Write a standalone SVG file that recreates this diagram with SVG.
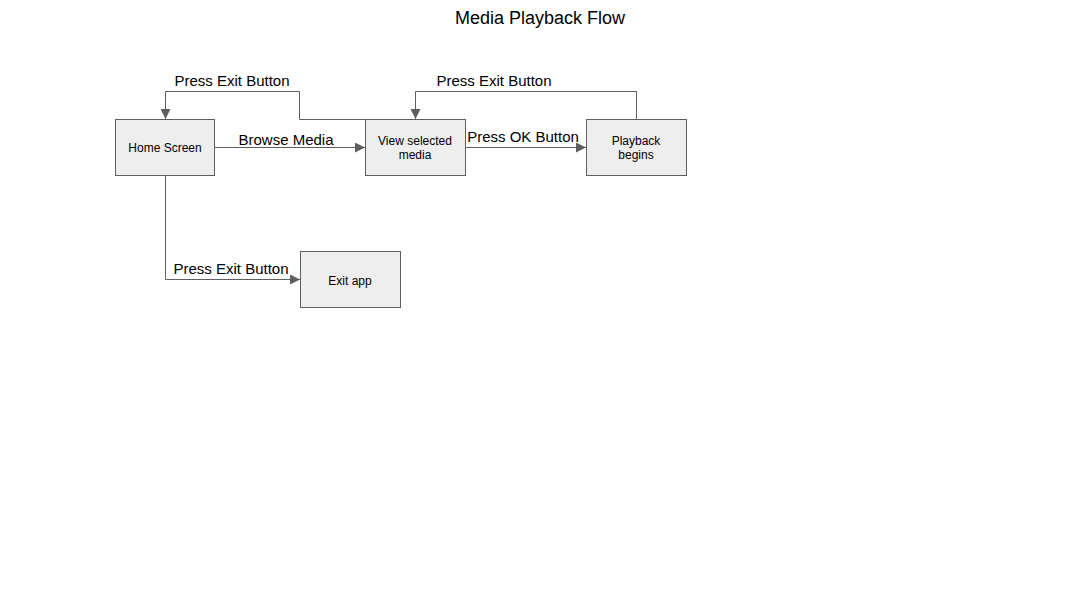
<svg xmlns="http://www.w3.org/2000/svg" width="1080" height="608" viewBox="0 0 1080 608">
<defs>
<style>
.node rect{fill:#eeeeee;stroke:#5f5f5f;stroke-width:1}
.node text{font-family:"Liberation Sans",Arial,sans-serif;font-size:12px;fill:#000;text-anchor:middle}
.edge{fill:none;stroke:#5f5f5f;stroke-width:1}
.lbl{font-family:"Liberation Sans",Arial,sans-serif;font-size:15px;fill:#000;text-anchor:middle}
</style>
<marker id="arr" viewBox="0 0 10 10" refX="10" refY="5" markerWidth="10" markerHeight="10" markerUnits="userSpaceOnUse" orient="auto">
<path d="M0,0 L10,5 L0,10 Z" fill="#5f5f5f"/>
</marker>
</defs>
<rect width="1080" height="608" fill="#fff"/>
<text x="540" y="24" font-family="'Liberation Sans',Arial,sans-serif" font-size="18" text-anchor="middle">Media Playback Flow</text>
<g id="connectors">
<path class="edge" d="M214.5,147.5 H365" marker-end="url(#arr)"/>
<text class="lbl" x="286" y="145">Browse Media</text>
<path class="edge" d="M365,119.5 H299.5 V91.5 H165.5 V119" marker-end="url(#arr)"/>
<text class="lbl" x="232" y="86">Press Exit Button</text>
<path class="edge" d="M465.5,147.5 H586" marker-end="url(#arr)"/>
<text class="lbl" x="523" y="142">Press OK Button</text>
<path class="edge" d="M636.5,119 V91.5 H415.5 V119" marker-end="url(#arr)"/>
<text class="lbl" x="494" y="86">Press Exit Button</text>
<path class="edge" d="M165.5,175.5 V279.5 H300" marker-end="url(#arr)"/>
<text class="lbl" x="231" y="274">Press Exit Button</text>
</g>
<g id="home" class="node"><rect x="115.5" y="119.5" width="99" height="56"/><text x="165" y="152">Home Screen</text></g>
<g id="view" class="node"><rect x="365.5" y="119.5" width="100" height="56"/><text x="415" y="145">View selected</text><text x="415" y="159">media</text></g>
<g id="playback" class="node"><rect x="586.5" y="119.5" width="100" height="56"/><text x="636" y="145">Playback</text><text x="636" y="159">begins</text></g>
<g id="exit" class="node"><rect x="300.5" y="251.5" width="100" height="56"/><text x="350" y="285">Exit app</text></g>
</svg>
